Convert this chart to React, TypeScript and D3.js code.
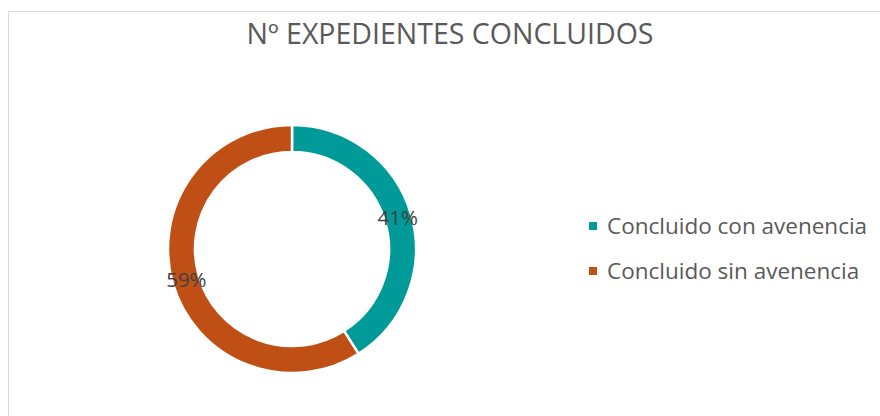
import React, { useEffect, useRef } from 'react';
import * as d3 from 'd3';

const categories = ['Concluido con avenencia', 'Concluido sin avenencia'];
const values = [41, 59];
const colors = ['#009a98', '#c04f15'];
const title = 'Nº EXPEDIENTES CONCLUIDOS';

export default function App() {
  const svgRef = useRef<SVGSVGElement>(null);

  useEffect(() => {
    const width = 880;
    const height = 416;
    const cx = 292;
    const cy = 249;
    const outerR = 124;
    const innerR = 97;

    d3.select(svgRef.current).selectAll('*').remove();

    const svg = d3.select(svgRef.current)
      .attr('width', width)
      .attr('height', height)
      .style('font-family', "'Open Sans', 'Noto Sans', sans-serif");

    // chart border
    svg.append('rect')
      .attr('x', 8.5)
      .attr('y', 11.5)
      .attr('width', width)
      .attr('height', height)
      .attr('fill', '#ffffff')
      .attr('stroke', '#d9d9d9')
      .attr('stroke-width', 1);

    // title
    svg.append('text')
      .attr('x', 450)
      .attr('y', 44)
      .attr('text-anchor', 'middle')
      .attr('font-size', '28.5px')
      .attr('fill', '#595959')
      .text(title);

    const data = categories.map((c, i) => ({ name: c, value: values[i], color: colors[i] }));
    const total = d3.sum(values);

    const pie = d3.pie<any>()
      .sort(null)
      .value(d => d.value);

    const arc = d3.arc<any>()
      .innerRadius(innerR)
      .outerRadius(outerR);

    const labelArc = d3.arc<any>()
      .innerRadius(110)
      .outerRadius(110);

    const g = svg.append('g')
      .attr('transform', `translate(${cx},${cy})`);

    const arcs = pie(data);

    g.selectAll('.slice')
      .data(arcs)
      .enter()
      .append('path')
      .attr('class', 'slice')
      .attr('d', arc)
      .attr('fill', d => d.data.color)
      .attr('stroke', '#ffffff')
      .attr('stroke-width', 2.5);

    g.selectAll('.label')
      .data(arcs)
      .enter()
      .append('text')
      .attr('class', 'label')
      .attr('transform', d => `translate(${labelArc.centroid(d)})`)
      .attr('text-anchor', 'middle')
      .attr('dy', '0.35em')
      .attr('font-size', '20.5px')
      .attr('fill', '#404040')
      .text(d => `${Math.round((d.data.value / total) * 100)}%`);

    // legend
    const legend = svg.append('g')
      .attr('transform', 'translate(589, 226)');

    const items = legend.selectAll('.item')
      .data(data)
      .enter()
      .append('g')
      .attr('class', 'item')
      .attr('transform', (d, i) => `translate(0, ${i * 45})`);

    items.append('rect')
      .attr('x', 0)
      .attr('y', -4)
      .attr('width', 8)
      .attr('height', 8)
      .attr('fill', d => d.color);

    items.append('text')
      .attr('x', 18)
      .attr('y', 0)
      .attr('dy', '0.35em')
      .attr('font-size', '22.5px')
      .attr('fill', '#595959')
      .text(d => d.name);
  }, []);

  return (
    <div style={{ position: 'absolute', left: 0, top: 0, width: 880, height: 416, overflow: 'hidden', background: '#ffffff' }}>
      <svg ref={svgRef}></svg>
    </div>
  );
}
